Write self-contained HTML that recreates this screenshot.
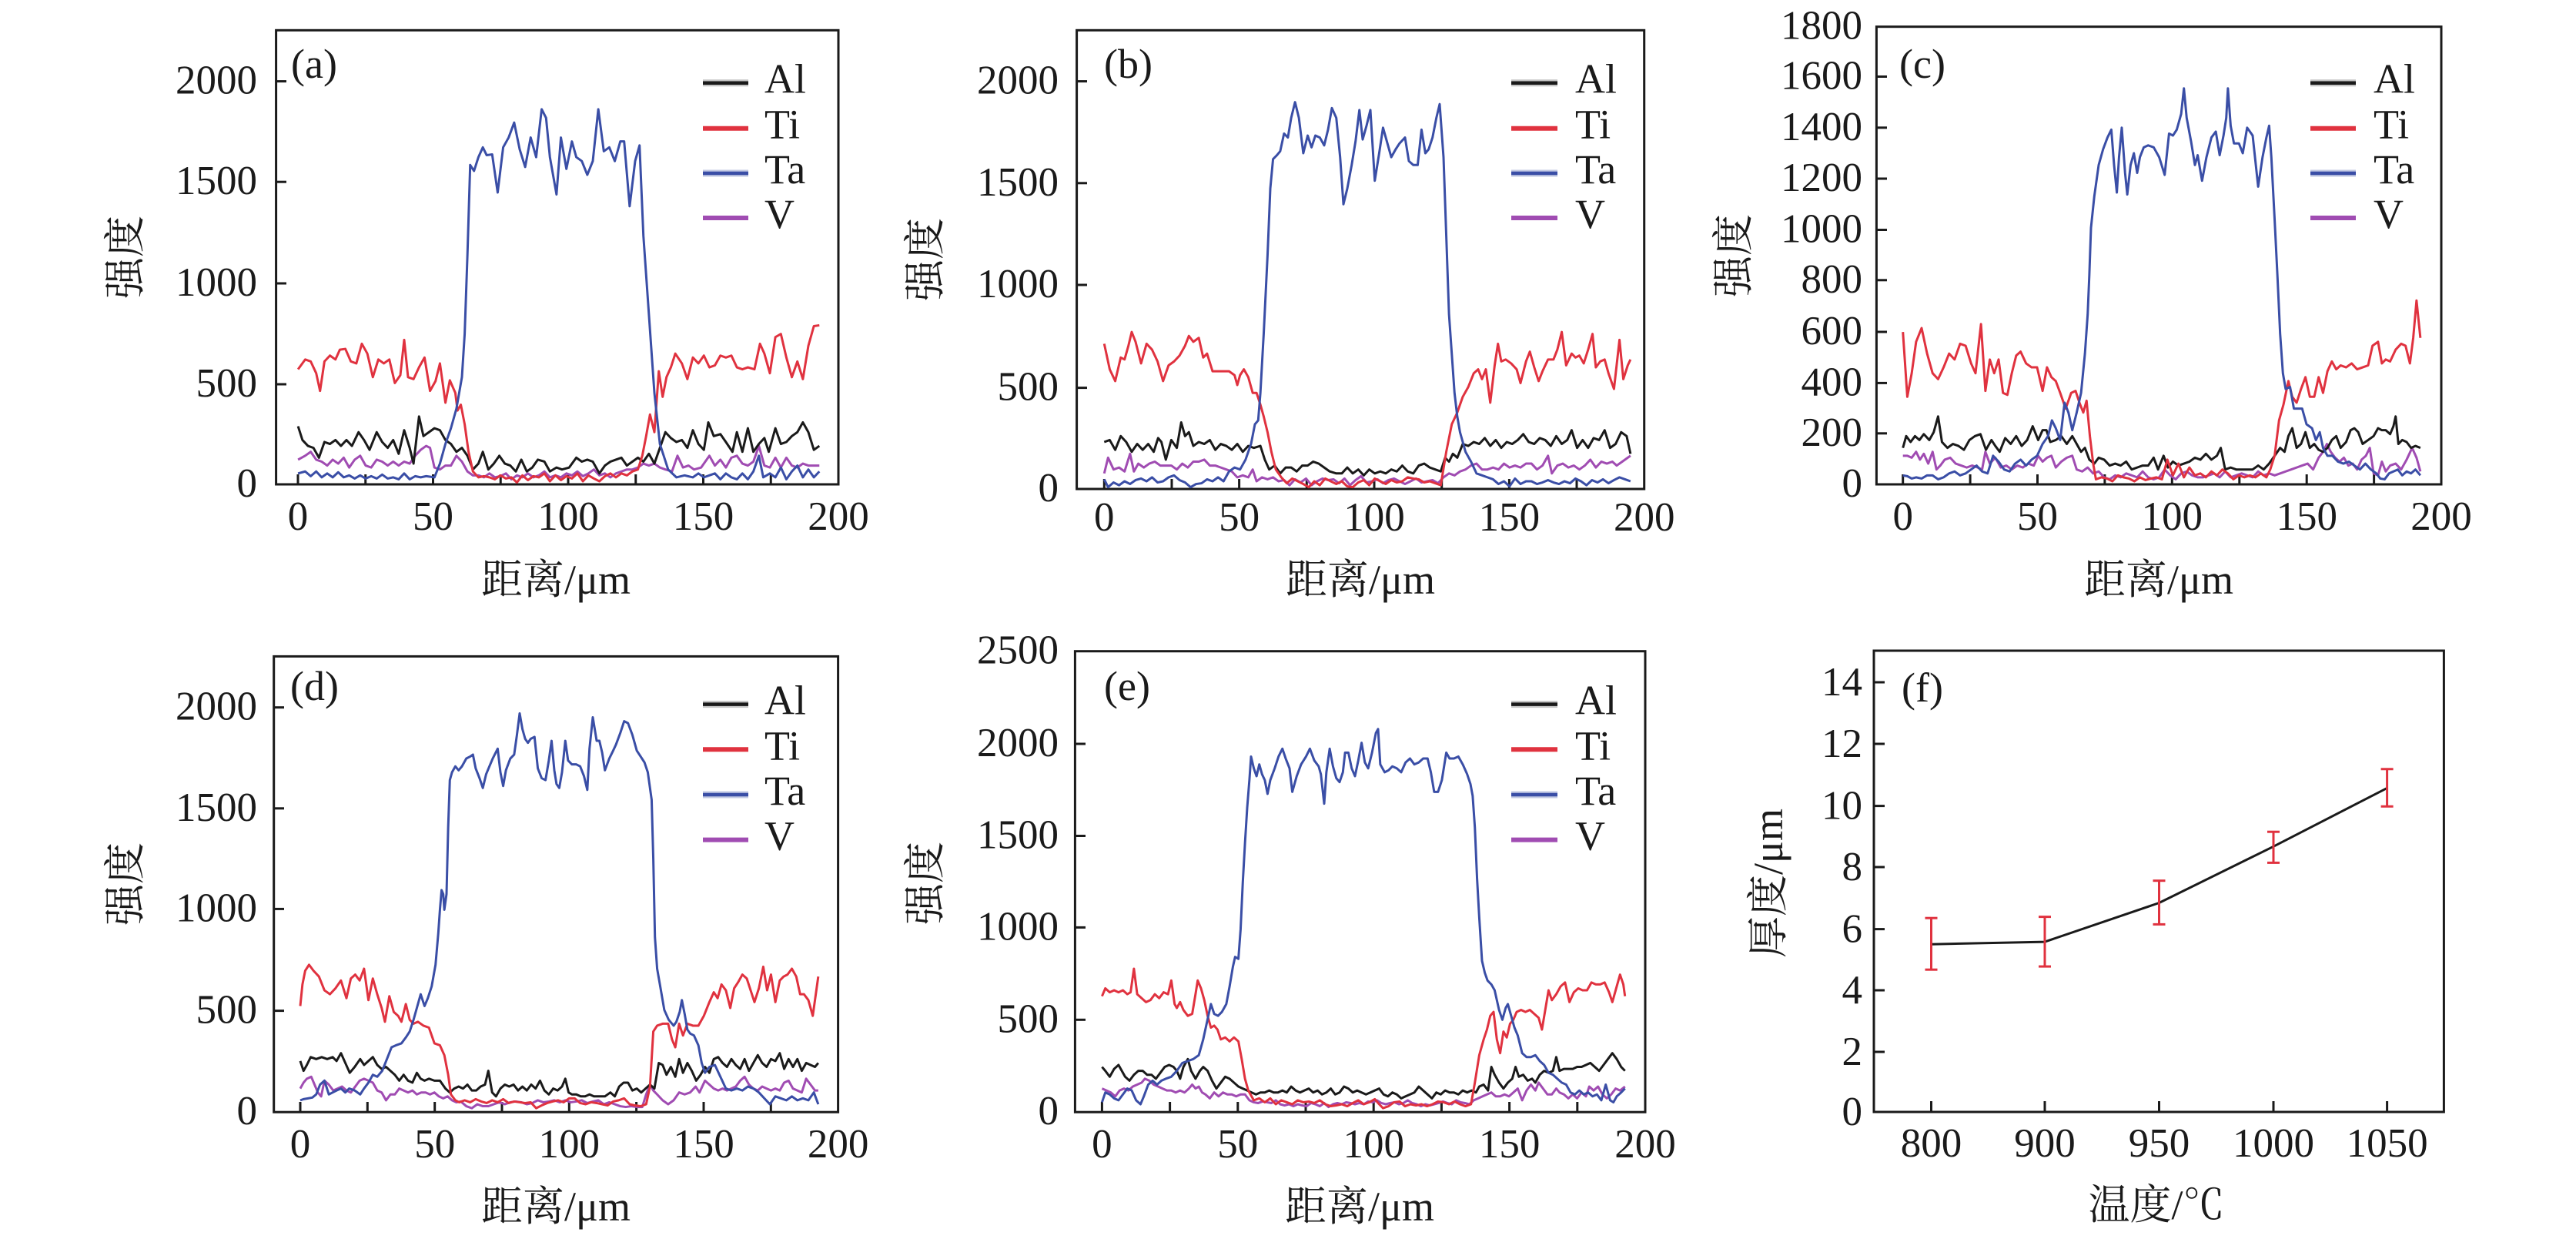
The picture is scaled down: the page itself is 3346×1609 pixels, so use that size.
<!DOCTYPE html>
<html><head><meta charset="utf-8"><style>html,body{margin:0;padding:0;background:#fff}svg{display:block}</style></head>
<body>
<svg xmlns="http://www.w3.org/2000/svg" width="3346" height="1609" viewBox="0 0 3346 1609" font-family="'Liberation Serif','Noto Serif CJK SC',serif" font-size="53" fill="#1a1a1a">
<rect width="3346" height="1609" fill="#fff"/>
<defs>
<style>
.ax{fill:none;stroke:#1a1a1a;stroke-width:3}
.tk{stroke:#1a1a1a;stroke-width:3}
.s{fill:none;stroke-width:3;stroke-linejoin:round;vector-effect:non-scaling-stroke}
.al{stroke:#1a1a1a}.ti{stroke:#e0323f}.ta{stroke:#3a4ea6}.v{stroke:#a04cb2}
.lab{font-size:54px}
</style>
</defs>

<!-- ================= PANEL A ================= -->
<rect class="ax" x="358.6" y="39.3" width="730.4" height="589.7"/>
<g class="tk">
<line x1="358.6" y1="105.6" x2="372" y2="105.6"/><line x1="358.6" y1="236.2" x2="372" y2="236.2"/><line x1="358.6" y1="368" x2="372" y2="368"/><line x1="358.6" y1="499" x2="372" y2="499"/>
<line x1="387" y1="629" x2="387" y2="616"/><line x1="474.75" y1="629" x2="474.75" y2="616"/><line x1="562.5" y1="629" x2="562.5" y2="616"/><line x1="650.25" y1="629" x2="650.25" y2="616"/><line x1="738" y1="629" x2="738" y2="616"/><line x1="825.75" y1="629" x2="825.75" y2="616"/><line x1="913.5" y1="629" x2="913.5" y2="616"/><line x1="1001.25" y1="629" x2="1001.25" y2="616"/>
</g>
<g text-anchor="end"><text x="334" y="121.6">2000</text><text x="334" y="252">1500</text><text x="334" y="384">1000</text><text x="334" y="515">500</text><text x="334" y="645">0</text></g>
<g text-anchor="middle"><text x="387" y="688">0</text><text x="562.5" y="688">50</text><text x="738" y="688">100</text><text x="913.5" y="688">150</text><text x="1089" y="688">200</text></g>
<text class="lab" transform="translate(181,334) rotate(-90)" text-anchor="middle">强度</text>
<text class="lab" x="722" y="771" text-anchor="middle">距离/μm</text>
<text class="lab" x="378" y="101">(a)</text>
<g transform="translate(0,0) scale(0.714286,0.510204)">
<polyline class="s v" points="542,1170 555,1160 565,1150 575,1170 585,1175 595,1185 605,1170 615,1180 625,1165 635,1190 645,1170 655,1160 665,1185 675,1190 685,1170 695,1175 705,1185 715,1175 725,1185 735,1175 745,1180 755,1160 765,1145 775,1135 782,1140 790,1190 800,1195 810,1185 820,1185 830,1160 840,1175 850,1200 860,1210 870,1210 880,1215 890,1205 900,1215 910,1212 920,1205 930,1220 940,1210 950,1215 960,1205 970,1215 980,1210 990,1200 1000,1215 1010,1210 1020,1215 1030,1205 1040,1210 1050,1200 1060,1212 1070,1205 1080,1195 1090,1210 1100,1205 1110,1215 1120,1205 1130,1200 1140,1195 1150,1195 1160,1190 1170,1180 1180,1185 1190,1180 1200,1190 1210,1195 1222,1200 1232,1160 1242,1190 1252,1185 1262,1195 1275,1190 1290,1160 1300,1185 1310,1170 1320,1190 1330,1165 1340,1160 1350,1180 1360,1185 1370,1175 1380,1135 1390,1185 1400,1190 1410,1165 1420,1190 1430,1165 1440,1185 1450,1190 1460,1180 1470,1185 1490,1185"/>
<polyline class="s al" points="542,1085 550,1120 560,1135 570,1140 580,1165 590,1125 600,1130 610,1120 620,1135 630,1120 640,1135 652,1100 662,1120 672,1145 685,1100 695,1125 705,1140 715,1120 725,1155 735,1095 745,1140 752,1180 762,1060 770,1110 780,1100 790,1090 800,1095 810,1120 820,1130 830,1150 840,1140 850,1160 860,1195 870,1180 878,1150 888,1195 898,1180 908,1160 918,1180 928,1185 938,1200 948,1170 958,1200 968,1190 978,1170 990,1175 1000,1200 1012,1190 1022,1195 1035,1190 1048,1165 1058,1175 1068,1170 1078,1175 1090,1205 1100,1185 1110,1175 1120,1170 1130,1165 1140,1185 1150,1175 1160,1165 1170,1175 1180,1155 1190,1180 1200,1140 1210,1100 1220,1115 1230,1125 1240,1120 1250,1140 1260,1095 1270,1130 1280,1145 1288,1075 1298,1110 1310,1105 1320,1125 1332,1150 1340,1100 1350,1150 1360,1090 1370,1150 1380,1130 1390,1115 1398,1150 1410,1090 1420,1130 1430,1125 1440,1110 1450,1100 1460,1075 1470,1100 1480,1145 1490,1135"/>
<polyline class="s ti" points="542,940 555,915 565,920 575,950 582,995 590,920 600,905 610,915 618,890 628,888 638,920 648,925 658,875 668,900 678,960 688,915 698,925 708,915 718,975 728,955 735,865 742,960 752,965 762,935 772,910 782,995 792,970 800,925 810,1025 818,968 828,1000 832,1045 838,1030 845,1080 852,1150 860,1200 870,1215 880,1212 890,1215 900,1220 910,1210 920,1218 930,1215 940,1228 950,1210 960,1222 970,1212 980,1215 990,1205 1000,1225 1010,1210 1020,1222 1030,1212 1040,1218 1050,1205 1060,1225 1070,1210 1080,1218 1090,1225 1100,1212 1110,1205 1120,1215 1130,1205 1140,1210 1150,1200 1160,1195 1168,1160 1175,1110 1182,1055 1190,1100 1198,945 1205,1010 1212,960 1220,935 1228,900 1240,925 1250,965 1260,910 1270,925 1280,905 1290,935 1300,930 1310,905 1320,910 1330,905 1340,935 1350,940 1360,935 1372,940 1382,875 1390,900 1400,950 1410,858 1420,850 1430,910 1440,960 1450,920 1460,965 1470,880 1480,830 1490,828"/>
<polyline class="s ta" points="542,1205 555,1200 565,1212 575,1200 585,1215 595,1205 605,1215 615,1202 625,1215 635,1210 645,1218 655,1210 665,1218 675,1212 685,1218 695,1208 705,1218 715,1215 725,1220 735,1205 745,1220 755,1212 765,1215 775,1212 790,1215 800,1180 810,1130 820,1090 830,1040 840,960 845,850 850,650 855,420 862,435 870,400 878,375 885,395 895,393 905,490 915,375 925,350 935,312 945,380 955,425 965,350 975,400 985,278 993,300 1000,400 1012,495 1020,350 1030,430 1040,360 1048,400 1058,410 1068,445 1078,410 1088,278 1098,385 1108,375 1118,410 1128,360 1135,360 1145,525 1155,410 1163,370 1170,600 1180,800 1190,1000 1200,1130 1215,1195 1230,1215 1245,1210 1260,1215 1270,1205 1280,1215 1290,1210 1300,1205 1310,1220 1320,1205 1330,1215 1340,1220 1350,1205 1360,1220 1370,1200 1380,1160 1388,1215 1400,1205 1410,1215 1420,1190 1430,1220 1440,1200 1450,1185 1460,1215 1470,1195 1480,1215 1490,1200"/>
</g>
<g>
<line x1="913" y1="107.7" x2="972" y2="107.7" stroke="#1a1a1a" stroke-width="9" opacity="0.25"/><line x1="913" y1="107.7" x2="972" y2="107.7" stroke="#1a1a1a" stroke-width="4.5"/>
<line x1="913" y1="166.7" x2="972" y2="166.7" stroke="#e0323f" stroke-width="6"/>
<line x1="913" y1="225" x2="972" y2="225" stroke="#3a4ea6" stroke-width="9" opacity="0.3"/><line x1="913" y1="225" x2="972" y2="225" stroke="#3a4ea6" stroke-width="4.5"/>
<line x1="913" y1="283" x2="972" y2="283" stroke="#a04cb2" stroke-width="6"/>
<text class="lab" x="993" y="120.7">Al</text><text class="lab" x="993" y="179.7">Ti</text><text class="lab" x="993" y="238">Ta</text><text class="lab" x="993" y="296">V</text>
</g>

<!-- ================= PANEL B ================= -->
<rect class="ax" x="1398.6" y="39.3" width="737.1" height="595.7"/>
<g class="tk">
<line x1="1398.6" y1="105.6" x2="1412" y2="105.6"/><line x1="1398.6" y1="237.8" x2="1412" y2="237.8"/><line x1="1398.6" y1="370" x2="1412" y2="370"/><line x1="1398.6" y1="503.6" x2="1412" y2="503.6"/>
<line x1="1434.3" y1="635" x2="1434.3" y2="622"/><line x1="1522" y1="635" x2="1522" y2="622"/><line x1="1609.6" y1="635" x2="1609.6" y2="622"/><line x1="1697.3" y1="635" x2="1697.3" y2="622"/><line x1="1785" y1="635" x2="1785" y2="622"/><line x1="1872.7" y1="635" x2="1872.7" y2="622"/><line x1="1960.4" y1="635" x2="1960.4" y2="622"/><line x1="2048" y1="635" x2="2048" y2="622"/>
</g>
<g text-anchor="end"><text x="1375" y="121.6">2000</text><text x="1375" y="253.8">1500</text><text x="1375" y="386">1000</text><text x="1375" y="519.6">500</text><text x="1375" y="651">0</text></g>
<g text-anchor="middle"><text x="1434.3" y="689">0</text><text x="1609.6" y="689">50</text><text x="1785" y="689">100</text><text x="1960.4" y="689">150</text><text x="2135.7" y="689">200</text></g>
<text class="lab" transform="translate(1220,337) rotate(-90)" text-anchor="middle">强度</text>
<text class="lab" x="1767" y="771" text-anchor="middle">距离/μm</text>
<text class="lab" x="1434" y="101">(b)</text>
<g transform="translate(1100,0) scale(0.714286,0.510204)">
<polyline class="s v" points="468,1205 475,1165 485,1195 495,1190 505,1200 515,1155 522,1200 530,1180 540,1190 550,1180 560,1175 570,1185 580,1185 590,1185 600,1195 610,1180 620,1190 630,1175 640,1175 650,1170 660,1185 670,1185 680,1190 690,1195 700,1200 710,1215 720,1210 730,1215 738,1195 745,1225 755,1215 765,1220 775,1215 785,1225 795,1222 805,1235 815,1220 825,1228 835,1218 845,1235 855,1225 865,1218 875,1222 885,1220 895,1230 905,1218 915,1235 925,1222 935,1212 945,1228 955,1225 965,1220 975,1230 985,1222 995,1218 1005,1225 1015,1232 1025,1225 1035,1218 1045,1228 1055,1225 1065,1222 1075,1230 1085,1215 1095,1205 1105,1210 1115,1200 1125,1195 1135,1185 1145,1180 1155,1195 1165,1195 1175,1190 1185,1195 1195,1180 1205,1190 1215,1185 1225,1190 1235,1180 1245,1180 1255,1195 1265,1185 1275,1160 1282,1205 1292,1185 1302,1180 1312,1190 1322,1185 1332,1195 1342,1185 1352,1170 1362,1190 1372,1175 1382,1180 1392,1175 1400,1185 1410,1175 1420,1165 1425,1160"/>
<polyline class="s al" points="468,1125 478,1120 488,1145 498,1110 508,1125 518,1150 528,1130 538,1145 548,1130 558,1150 566,1115 572,1125 580,1170 590,1120 600,1140 608,1075 615,1110 622,1100 630,1135 640,1125 650,1130 660,1120 670,1145 680,1130 690,1135 700,1145 710,1130 720,1150 730,1135 740,1140 752,1135 760,1170 768,1195 778,1185 788,1205 798,1190 808,1190 818,1200 828,1185 838,1185 848,1175 858,1180 868,1190 878,1200 890,1205 900,1205 910,1190 920,1205 930,1195 940,1210 950,1195 960,1205 970,1200 980,1205 990,1195 1000,1200 1010,1185 1020,1200 1030,1205 1040,1185 1050,1180 1060,1190 1070,1195 1080,1200 1088,1165 1095,1175 1102,1155 1110,1165 1120,1130 1130,1135 1140,1125 1150,1130 1160,1115 1170,1135 1180,1120 1190,1140 1200,1125 1210,1130 1220,1120 1230,1105 1240,1125 1250,1130 1260,1115 1270,1120 1280,1135 1290,1110 1300,1130 1310,1120 1318,1095 1328,1140 1338,1120 1348,1140 1358,1115 1368,1120 1378,1095 1388,1140 1398,1130 1408,1100 1418,1110 1425,1155"/>
<polyline class="s ti" points="468,875 478,940 488,970 498,910 505,915 512,880 518,845 525,870 535,925 545,875 555,890 565,920 575,970 585,930 595,920 605,905 615,880 622,855 630,870 640,860 648,910 655,900 665,945 675,945 685,945 695,945 705,955 710,980 715,955 722,940 730,960 738,1000 745,1000 752,1030 758,1060 765,1100 772,1150 780,1195 790,1215 800,1230 810,1218 820,1225 830,1232 840,1240 850,1225 860,1235 870,1218 880,1225 890,1232 900,1225 910,1238 920,1240 930,1228 940,1222 950,1235 960,1218 970,1225 980,1232 990,1222 1000,1228 1010,1225 1020,1215 1030,1218 1040,1220 1050,1228 1060,1225 1070,1230 1080,1235 1090,1150 1100,1080 1110,1050 1120,1010 1130,985 1140,950 1148,940 1155,965 1162,940 1170,1025 1178,930 1184,875 1190,920 1198,915 1208,925 1218,940 1225,975 1235,920 1242,895 1250,935 1258,970 1265,945 1275,915 1285,915 1292,890 1300,845 1308,930 1318,900 1325,910 1332,905 1340,925 1348,890 1356,850 1362,935 1370,920 1378,915 1385,950 1395,990 1405,865 1412,965 1420,930 1425,915"/>
<polyline class="s ta" points="468,1220 475,1240 485,1228 495,1235 505,1225 515,1232 525,1222 535,1218 545,1225 555,1215 565,1228 575,1225 585,1215 595,1210 605,1222 615,1228 625,1240 635,1232 645,1230 655,1220 665,1225 675,1215 685,1225 695,1200 705,1190 715,1195 725,1170 735,1130 742,1080 748,1070 752,1000 758,850 765,650 770,480 775,405 782,395 788,385 795,340 802,350 808,300 815,260 822,300 830,390 838,345 845,375 852,345 860,350 868,370 875,330 882,275 890,300 897,400 903,520 910,480 918,420 925,360 932,280 938,355 945,320 952,280 960,460 968,390 975,325 982,360 990,400 998,380 1005,365 1015,350 1022,410 1030,420 1038,420 1045,330 1052,390 1058,380 1065,350 1072,300 1078,265 1085,400 1090,600 1095,800 1100,900 1105,1000 1110,1060 1115,1100 1125,1150 1135,1175 1145,1205 1155,1210 1165,1215 1175,1220 1185,1232 1195,1225 1205,1238 1215,1218 1225,1232 1235,1225 1245,1225 1255,1232 1265,1228 1275,1222 1285,1228 1295,1232 1305,1225 1315,1230 1325,1218 1335,1225 1345,1235 1355,1222 1365,1228 1375,1220 1385,1230 1395,1222 1405,1215 1415,1220 1425,1225"/>
</g>
<g>
<line x1="1963" y1="107.7" x2="2023" y2="107.7" stroke="#1a1a1a" stroke-width="9" opacity="0.25"/><line x1="1963" y1="107.7" x2="2023" y2="107.7" stroke="#1a1a1a" stroke-width="4.5"/>
<line x1="1963" y1="166.7" x2="2023" y2="166.7" stroke="#e0323f" stroke-width="6"/>
<line x1="1963" y1="225" x2="2023" y2="225" stroke="#3a4ea6" stroke-width="9" opacity="0.3"/><line x1="1963" y1="225" x2="2023" y2="225" stroke="#3a4ea6" stroke-width="4.5"/>
<line x1="1963" y1="283" x2="2023" y2="283" stroke="#a04cb2" stroke-width="6"/>
<text class="lab" x="2046" y="120.7">Al</text><text class="lab" x="2046" y="179.7">Ti</text><text class="lab" x="2046" y="238">Ta</text><text class="lab" x="2046" y="296">V</text>
</g>

<!-- ================= PANEL C ================= -->
<rect class="ax" x="2437.4" y="34.7" width="733.6" height="594.3"/>
<g class="tk">
<line x1="2437.4" y1="562.8" x2="2451" y2="562.8"/><line x1="2437.4" y1="497.4" x2="2451" y2="497.4"/><line x1="2437.4" y1="431" x2="2451" y2="431"/><line x1="2437.4" y1="363.8" x2="2451" y2="363.8"/><line x1="2437.4" y1="298.5" x2="2451" y2="298.5"/><line x1="2437.4" y1="232" x2="2451" y2="232"/><line x1="2437.4" y1="165.8" x2="2451" y2="165.8"/><line x1="2437.4" y1="99.5" x2="2451" y2="99.5"/>
<line x1="2471.7" y1="629" x2="2471.7" y2="616"/><line x1="2559.1" y1="629" x2="2559.1" y2="616"/><line x1="2646.5" y1="629" x2="2646.5" y2="616"/><line x1="2733.9" y1="629" x2="2733.9" y2="616"/><line x1="2821.3" y1="629" x2="2821.3" y2="616"/><line x1="2908.8" y1="629" x2="2908.8" y2="616"/><line x1="2996.2" y1="629" x2="2996.2" y2="616"/><line x1="3083.6" y1="629" x2="3083.6" y2="616"/>
</g>
<g text-anchor="end"><text x="2419" y="50.7">1800</text><text x="2419" y="115.5">1600</text><text x="2419" y="181.8">1400</text><text x="2419" y="248">1200</text><text x="2419" y="314.5">1000</text><text x="2419" y="379.8">800</text><text x="2419" y="447">600</text><text x="2419" y="513.4">400</text><text x="2419" y="578.8">200</text><text x="2419" y="645">0</text></g>
<g text-anchor="middle"><text x="2471.7" y="688">0</text><text x="2646.5" y="688">50</text><text x="2821.3" y="688">100</text><text x="2996.2" y="688">150</text><text x="3171" y="688">200</text></g>
<text class="lab" transform="translate(2270,332) rotate(-90)" text-anchor="middle">强度</text>
<text class="lab" x="2804" y="771" text-anchor="middle">距离/μm</text>
<text class="lab" x="2467" y="101">(c)</text>
<g transform="translate(2226,0) scale(0.714286,0.510204)">
<polyline class="s v" points="344,1160 352,1160 360,1165 368,1150 375,1170 382,1155 390,1180 398,1150 405,1195 412,1185 420,1170 430,1165 440,1180 450,1185 460,1190 470,1185 480,1190 488,1195 494,1150 502,1180 512,1165 522,1190 532,1185 542,1195 552,1185 562,1190 572,1180 582,1185 590,1160 598,1175 606,1165 614,1160 622,1190 632,1175 642,1165 652,1160 660,1195 670,1200 680,1190 690,1205 700,1200 710,1215 720,1220 730,1210 740,1215 750,1205 760,1210 770,1215 780,1200 790,1215 800,1220 810,1215 820,1195 830,1210 840,1220 850,1205 860,1200 870,1210 880,1215 890,1215 900,1210 910,1205 920,1215 930,1200 940,1215 950,1210 960,1205 970,1210 980,1215 990,1200 1000,1210 1010,1205 1020,1210 1030,1205 1040,1200 1050,1195 1060,1190 1070,1185 1080,1180 1090,1195 1100,1165 1108,1150 1115,1130 1122,1150 1130,1165 1138,1175 1146,1165 1154,1185 1162,1180 1170,1195 1178,1170 1186,1160 1193,1140 1200,1205 1208,1210 1215,1175 1222,1200 1230,1185 1240,1180 1250,1195 1260,1170 1270,1140 1278,1165 1285,1200"/>
<polyline class="s al" points="344,1140 350,1110 358,1125 366,1110 374,1120 382,1105 392,1120 400,1100 408,1060 415,1125 425,1140 435,1130 445,1135 455,1145 465,1120 475,1110 485,1105 495,1145 505,1120 512,1135 520,1150 530,1115 540,1130 550,1110 560,1135 570,1120 580,1085 590,1120 598,1095 605,1095 612,1125 622,1120 632,1110 642,1130 652,1110 660,1130 668,1150 675,1140 683,1170 692,1180 700,1165 710,1170 720,1185 730,1180 740,1185 750,1175 760,1195 770,1190 780,1185 790,1185 800,1165 808,1195 818,1160 826,1190 835,1175 845,1185 855,1180 865,1175 875,1165 885,1170 895,1155 905,1170 915,1160 922,1140 930,1195 940,1190 950,1195 960,1195 970,1195 980,1195 990,1185 1000,1195 1010,1180 1020,1160 1030,1140 1038,1150 1045,1110 1052,1090 1060,1140 1068,1130 1076,1100 1084,1140 1092,1130 1100,1145 1108,1150 1116,1140 1124,1120 1132,1110 1140,1140 1150,1125 1158,1095 1165,1090 1172,1100 1180,1130 1190,1120 1200,1110 1208,1090 1215,1095 1222,1095 1230,1105 1236,1085 1240,1060 1245,1130 1252,1120 1260,1125 1268,1140 1276,1135 1285,1140"/>
<polyline class="s ti" points="344,845 352,1010 360,950 368,870 378,835 388,900 398,950 408,965 418,935 428,900 438,915 448,875 458,880 468,925 476,950 486,825 494,995 502,915 510,950 518,915 526,1000 534,1005 542,950 550,905 558,895 568,925 578,935 588,935 598,995 606,935 614,960 622,970 630,1000 640,1040 650,1000 658,995 665,1025 672,1050 678,1020 684,1110 690,1180 695,1220 705,1215 715,1218 725,1225 735,1210 745,1215 755,1218 765,1225 775,1215 785,1222 795,1218 805,1215 815,1220 825,1170 835,1210 845,1180 855,1215 865,1190 875,1210 885,1205 895,1215 905,1200 915,1210 925,1195 935,1205 945,1220 955,1210 965,1215 975,1210 985,1215 995,1205 1005,1215 1012,1195 1020,1160 1028,1070 1036,1030 1045,970 1052,1010 1060,1025 1068,990 1076,960 1084,1010 1092,1010 1100,960 1108,1000 1116,945 1124,920 1132,940 1140,930 1150,935 1160,925 1170,940 1180,935 1190,930 1198,880 1208,870 1215,925 1222,915 1230,920 1240,890 1250,875 1258,880 1266,925 1272,860 1278,765 1285,860"/>
<polyline class="s ta" points="344,1210 352,1212 360,1218 368,1215 378,1218 388,1210 398,1210 408,1220 418,1215 428,1205 438,1200 448,1210 458,1205 468,1195 478,1185 488,1200 498,1205 508,1160 518,1175 528,1195 538,1200 548,1180 558,1170 568,1185 578,1170 588,1160 598,1130 608,1110 615,1070 622,1090 630,1120 638,1025 645,1050 652,1095 660,1050 668,1000 675,900 680,800 683,700 686,580 692,500 700,420 708,380 716,350 723,330 728,420 733,490 737,400 742,325 748,440 752,495 758,420 764,390 770,440 775,400 782,375 790,370 800,375 810,400 820,445 828,340 835,345 842,330 850,290 855,225 860,300 868,360 875,420 880,395 888,460 896,400 905,350 913,335 920,395 927,345 932,300 935,225 940,320 946,365 955,365 962,390 970,325 980,345 990,475 998,400 1005,350 1010,320 1014,400 1020,560 1025,700 1030,850 1035,950 1040,990 1048,985 1055,1040 1062,1040 1070,1040 1078,1080 1088,1090 1095,1120 1102,1100 1108,1140 1116,1160 1125,1160 1135,1175 1145,1180 1155,1175 1165,1185 1175,1195 1185,1180 1195,1195 1205,1205 1212,1218 1220,1220 1228,1205 1236,1200 1244,1195 1252,1210 1260,1200 1268,1205 1276,1195 1285,1210"/>
</g>
<g>
<line x1="3001" y1="107.7" x2="3060" y2="107.7" stroke="#1a1a1a" stroke-width="9" opacity="0.25"/><line x1="3001" y1="107.7" x2="3060" y2="107.7" stroke="#1a1a1a" stroke-width="4.5"/>
<line x1="3001" y1="166.7" x2="3060" y2="166.7" stroke="#e0323f" stroke-width="6"/>
<line x1="3001" y1="225" x2="3060" y2="225" stroke="#3a4ea6" stroke-width="9" opacity="0.3"/><line x1="3001" y1="225" x2="3060" y2="225" stroke="#3a4ea6" stroke-width="4.5"/>
<line x1="3001" y1="283" x2="3060" y2="283" stroke="#a04cb2" stroke-width="6"/>
<text class="lab" x="3083" y="120.7">Al</text><text class="lab" x="3083" y="179.7">Ti</text><text class="lab" x="3083" y="238">Ta</text><text class="lab" x="3083" y="296">V</text>
</g>

<!-- ================= PANEL D ================= -->
<rect class="ax" x="355.7" y="852.4" width="732.9" height="591.8"/>
<g class="tk">
<line x1="355.7" y1="918.7" x2="369" y2="918.7"/><line x1="355.7" y1="1049.8" x2="369" y2="1049.8"/><line x1="355.7" y1="1180.4" x2="369" y2="1180.4"/><line x1="355.7" y1="1312.6" x2="369" y2="1312.6"/>
<line x1="390" y1="1444" x2="390" y2="1431"/><line x1="477.3" y1="1444" x2="477.3" y2="1431"/><line x1="564.7" y1="1444" x2="564.7" y2="1431"/><line x1="652" y1="1444" x2="652" y2="1431"/><line x1="739.3" y1="1444" x2="739.3" y2="1431"/><line x1="826.6" y1="1444" x2="826.6" y2="1431"/><line x1="914" y1="1444" x2="914" y2="1431"/><line x1="1001.3" y1="1444" x2="1001.3" y2="1431"/>
</g>
<g text-anchor="end"><text x="334" y="934.7">2000</text><text x="334" y="1065.8">1500</text><text x="334" y="1196.4">1000</text><text x="334" y="1328.6">500</text><text x="334" y="1460">0</text></g>
<g text-anchor="middle"><text x="390" y="1503">0</text><text x="564.7" y="1503">50</text><text x="739.3" y="1503">100</text><text x="914" y="1503">150</text><text x="1088.6" y="1503">200</text></g>
<text class="lab" transform="translate(181,1148) rotate(-90)" text-anchor="middle">强度</text>
<text class="lab" x="722" y="1585" text-anchor="middle">距离/μm</text>
<text class="lab" x="377" y="909">(d)</text>
<g transform="translate(0,809) scale(0.714286,0.510204)">
<polyline class="s v" points="546,1185 552,1170 558,1160 566,1155 572,1175 578,1195 584,1205 590,1165 598,1175 606,1190 614,1185 622,1180 630,1190 638,1195 646,1180 654,1165 662,1160 670,1165 678,1170 686,1190 694,1195 702,1215 710,1200 718,1200 726,1185 734,1190 742,1195 750,1190 758,1200 766,1195 774,1195 782,1200 790,1195 798,1205 806,1210 814,1205 822,1215 830,1220 838,1218 848,1230 858,1235 868,1225 878,1230 888,1230 898,1225 908,1220 918,1225 928,1220 938,1218 948,1220 958,1225 968,1222 978,1215 988,1220 998,1218 1008,1215 1018,1220 1028,1215 1038,1220 1048,1218 1058,1215 1068,1222 1078,1218 1088,1215 1098,1225 1108,1220 1118,1225 1128,1230 1138,1232 1148,1230 1158,1232 1168,1232 1175,1200 1182,1175 1188,1190 1195,1200 1205,1215 1215,1225 1225,1215 1235,1195 1245,1200 1255,1195 1265,1180 1272,1195 1282,1165 1290,1175 1298,1185 1306,1190 1314,1185 1322,1190 1330,1185 1338,1180 1346,1165 1354,1155 1362,1175 1370,1185 1378,1190 1386,1180 1394,1185 1402,1190 1410,1185 1418,1190 1426,1170 1434,1165 1442,1185 1450,1190 1458,1195 1466,1160 1474,1175 1482,1190 1488,1190"/>
<polyline class="s al" points="546,1115 552,1140 558,1125 565,1105 575,1110 585,1105 595,1110 605,1105 612,1115 620,1095 628,1120 636,1145 645,1130 655,1110 662,1125 670,1115 678,1105 686,1125 694,1135 702,1130 710,1140 718,1150 726,1165 734,1150 742,1165 750,1170 758,1145 765,1160 772,1165 780,1160 790,1165 800,1165 810,1185 818,1195 826,1185 834,1180 842,1185 850,1175 858,1190 866,1190 874,1180 882,1175 888,1140 895,1195 902,1205 910,1185 918,1175 926,1180 934,1175 942,1190 950,1180 958,1190 966,1175 974,1185 982,1165 990,1190 998,1200 1006,1185 1014,1190 1022,1180 1028,1160 1034,1195 1040,1200 1048,1200 1056,1205 1064,1205 1072,1200 1080,1205 1090,1205 1100,1205 1110,1195 1118,1205 1126,1180 1134,1170 1142,1170 1150,1190 1158,1185 1166,1195 1174,1185 1182,1175 1190,1185 1198,1120 1205,1125 1212,1150 1220,1130 1228,1155 1235,1110 1242,1145 1250,1120 1258,1140 1266,1165 1274,1150 1282,1130 1290,1145 1298,1110 1306,1105 1314,1120 1322,1130 1330,1110 1338,1125 1346,1135 1354,1110 1362,1140 1370,1120 1378,1100 1386,1120 1394,1130 1402,1110 1410,1115 1418,1095 1426,1135 1434,1110 1442,1130 1450,1110 1458,1140 1466,1120 1474,1125 1482,1130 1488,1120"/>
<polyline class="s ti" points="546,975 550,920 555,885 562,870 570,885 580,900 590,935 600,945 610,930 620,910 630,955 638,905 646,895 654,910 662,880 670,960 678,905 686,945 694,980 700,1015 708,950 716,990 724,1000 730,1015 738,970 745,1010 752,1020 760,1015 770,1025 780,1030 790,1070 800,1075 808,1100 815,1150 820,1200 828,1215 835,1220 845,1215 855,1220 865,1212 875,1218 885,1222 895,1215 905,1220 915,1212 925,1222 935,1218 945,1220 955,1222 965,1220 975,1235 985,1228 995,1222 1005,1218 1015,1215 1025,1220 1035,1210 1045,1210 1055,1222 1065,1225 1075,1220 1085,1222 1095,1225 1105,1228 1115,1218 1125,1215 1135,1210 1145,1225 1155,1228 1165,1230 1175,1225 1182,1180 1188,1040 1195,1025 1205,1020 1215,1020 1222,1060 1228,1080 1235,1020 1242,1050 1250,1020 1260,1025 1270,1025 1280,1000 1290,965 1298,940 1305,955 1312,920 1320,935 1328,980 1335,930 1342,915 1350,895 1358,905 1365,935 1372,965 1380,930 1388,875 1395,935 1402,895 1410,965 1418,910 1425,900 1432,895 1440,880 1448,900 1455,945 1462,945 1470,960 1478,1000 1485,930 1488,900"/>
<polyline class="s ta" points="546,1215 552,1212 560,1210 568,1208 575,1200 582,1175 590,1165 598,1200 605,1195 612,1190 620,1185 628,1195 635,1185 645,1190 655,1200 662,1185 670,1170 678,1150 686,1155 695,1140 705,1105 712,1080 720,1075 730,1070 738,1055 745,1040 752,1010 758,980 765,945 772,975 778,955 785,925 792,870 797,790 800,730 803,680 806,690 808,730 812,690 815,520 818,400 822,380 828,365 834,375 840,365 848,345 855,340 860,335 865,370 872,395 878,420 884,385 890,365 896,345 905,320 910,380 915,415 920,375 928,345 935,335 940,285 945,230 950,270 955,295 960,305 965,295 972,290 978,370 985,395 992,400 998,350 1003,300 1008,375 1012,410 1017,420 1022,380 1028,300 1033,350 1040,360 1048,360 1055,365 1062,390 1068,425 1072,320 1078,240 1085,300 1090,300 1095,330 1100,375 1108,345 1115,325 1120,310 1128,280 1135,250 1142,255 1150,285 1158,325 1165,340 1172,355 1178,380 1185,450 1188,600 1191,800 1195,880 1200,920 1208,985 1216,1010 1225,1025 1230,1015 1236,990 1240,960 1245,995 1250,1035 1255,1045 1262,1050 1270,1075 1276,1120 1282,1145 1290,1130 1300,1125 1310,1155 1320,1185 1330,1190 1340,1185 1350,1190 1360,1180 1370,1185 1380,1195 1390,1210 1400,1225 1410,1205 1420,1210 1430,1215 1440,1205 1450,1215 1460,1210 1470,1215 1480,1195 1488,1225"/>
</g>
<g>
<line x1="913" y1="914.6" x2="972" y2="914.6" stroke="#1a1a1a" stroke-width="9" opacity="0.25"/><line x1="913" y1="914.6" x2="972" y2="914.6" stroke="#1a1a1a" stroke-width="4.5"/>
<line x1="913" y1="973.3" x2="972" y2="973.3" stroke="#e0323f" stroke-width="6"/>
<line x1="913" y1="1032" x2="972" y2="1032" stroke="#3a4ea6" stroke-width="9" opacity="0.3"/><line x1="913" y1="1032" x2="972" y2="1032" stroke="#3a4ea6" stroke-width="4.5"/>
<line x1="913" y1="1090.6" x2="972" y2="1090.6" stroke="#a04cb2" stroke-width="6"/>
<text class="lab" x="993" y="927.6">Al</text><text class="lab" x="993" y="986.3">Ti</text><text class="lab" x="993" y="1045">Ta</text><text class="lab" x="993" y="1103.6">V</text>
</g>

<!-- ================= PANEL E ================= -->
<rect class="ax" x="1396.4" y="845.7" width="740.6" height="598.5"/>
<g class="tk">
<line x1="1396.4" y1="966" x2="1410" y2="966"/><line x1="1396.4" y1="1085.5" x2="1410" y2="1085.5"/><line x1="1396.4" y1="1204.4" x2="1410" y2="1204.4"/><line x1="1396.4" y1="1324.3" x2="1410" y2="1324.3"/>
<line x1="1431.4" y1="1444.2" x2="1431.4" y2="1431"/><line x1="1519.6" y1="1444.2" x2="1519.6" y2="1431"/><line x1="1607.8" y1="1444.2" x2="1607.8" y2="1431"/><line x1="1696" y1="1444.2" x2="1696" y2="1431"/><line x1="1784.2" y1="1444.2" x2="1784.2" y2="1431"/><line x1="1872.4" y1="1444.2" x2="1872.4" y2="1431"/><line x1="1960.6" y1="1444.2" x2="1960.6" y2="1431"/><line x1="2048.8" y1="1444.2" x2="2048.8" y2="1431"/>
</g>
<g text-anchor="end"><text x="1375" y="861.7">2500</text><text x="1375" y="982">2000</text><text x="1375" y="1101.5">1500</text><text x="1375" y="1220.4">1000</text><text x="1375" y="1340.3">500</text><text x="1375" y="1460">0</text></g>
<g text-anchor="middle"><text x="1431.4" y="1503">0</text><text x="1607.8" y="1503">50</text><text x="1784.2" y="1503">100</text><text x="1960.6" y="1503">150</text><text x="2137" y="1503">200</text></g>
<text class="lab" transform="translate(1220,1147) rotate(-90)" text-anchor="middle">强度</text>
<text class="lab" x="1766" y="1585" text-anchor="middle">距离/μm</text>
<text class="lab" x="1434" y="909">(e)</text>
<g transform="translate(1100,809) scale(0.714286,0.510204)">
<polyline class="s v" points="464,1185 472,1190 480,1195 488,1205 496,1190 504,1185 512,1190 520,1180 528,1175 536,1170 542,1160 550,1165 558,1175 566,1180 574,1185 582,1190 590,1190 598,1195 606,1190 614,1195 622,1185 628,1175 634,1185 640,1180 646,1195 652,1200 660,1210 668,1195 676,1205 684,1195 692,1200 700,1200 708,1205 716,1200 724,1200 732,1215 740,1220 748,1222 756,1218 764,1220 772,1222 780,1215 788,1225 796,1228 804,1225 812,1230 820,1225 828,1228 836,1230 844,1222 852,1225 860,1230 868,1222 876,1232 884,1225 892,1222 900,1225 908,1220 916,1222 924,1225 932,1222 940,1225 948,1218 956,1220 964,1215 972,1222 980,1225 988,1222 996,1220 1004,1225 1012,1222 1020,1215 1028,1222 1036,1225 1044,1230 1052,1225 1060,1228 1068,1225 1076,1222 1084,1218 1092,1222 1100,1225 1108,1215 1116,1220 1124,1222 1132,1225 1140,1215 1148,1210 1156,1205 1164,1200 1172,1195 1180,1205 1188,1205 1196,1200 1204,1205 1212,1195 1220,1185 1228,1215 1236,1190 1244,1175 1252,1190 1258,1170 1266,1185 1274,1200 1282,1200 1290,1185 1296,1195 1304,1200 1312,1210 1320,1200 1328,1210 1336,1195 1344,1205 1350,1180 1358,1190 1366,1180 1374,1200 1382,1210 1390,1200 1398,1185 1406,1190 1415,1180"/>
<polyline class="s al" points="464,1130 470,1140 478,1155 486,1135 494,1125 500,1140 506,1155 514,1165 522,1150 530,1140 538,1140 546,1150 554,1150 562,1160 570,1145 578,1130 586,1125 594,1130 600,1140 606,1160 612,1130 620,1110 626,1140 634,1160 642,1140 648,1130 656,1140 664,1165 672,1185 680,1170 688,1155 696,1160 704,1170 712,1180 720,1185 728,1190 736,1195 744,1200 752,1195 760,1195 768,1190 776,1195 784,1195 792,1190 800,1195 808,1180 816,1190 824,1195 832,1190 840,1185 848,1195 856,1190 864,1200 872,1195 880,1185 888,1200 896,1195 904,1180 912,1185 920,1195 928,1190 936,1195 944,1200 952,1195 960,1190 968,1185 976,1200 984,1205 992,1195 1000,1200 1008,1210 1016,1205 1024,1200 1032,1195 1040,1180 1048,1190 1056,1200 1064,1210 1072,1195 1080,1200 1088,1190 1096,1195 1104,1195 1112,1200 1120,1190 1128,1195 1136,1190 1144,1195 1150,1180 1158,1175 1166,1190 1172,1130 1178,1150 1186,1170 1194,1185 1202,1170 1210,1160 1216,1130 1222,1155 1230,1150 1238,1165 1246,1160 1252,1170 1260,1150 1268,1140 1276,1145 1284,1140 1290,1105 1296,1140 1304,1135 1312,1135 1320,1135 1328,1130 1336,1130 1344,1125 1352,1120 1360,1130 1368,1140 1376,1125 1384,1110 1392,1095 1400,1110 1408,1130 1415,1140"/>
<polyline class="s ti" points="464,950 470,930 478,940 486,935 494,940 502,935 510,945 516,940 522,880 528,945 536,955 544,965 552,960 560,945 568,955 576,940 584,945 590,910 596,970 600,980 606,965 612,985 620,1000 628,995 634,945 638,910 644,930 650,960 656,1000 662,1030 668,1025 674,1035 680,1060 688,1055 696,1065 704,1055 712,1065 718,1110 724,1160 730,1190 740,1215 750,1210 760,1220 770,1210 780,1225 790,1215 800,1220 810,1225 820,1215 830,1220 840,1218 850,1222 860,1215 870,1225 880,1230 890,1228 900,1225 910,1230 920,1222 930,1215 940,1225 950,1220 960,1212 968,1225 975,1235 985,1230 995,1220 1005,1218 1015,1230 1025,1225 1035,1228 1045,1225 1055,1230 1065,1225 1075,1218 1085,1220 1095,1225 1105,1218 1115,1225 1125,1230 1135,1225 1142,1170 1150,1100 1158,1060 1164,1035 1170,1000 1176,990 1182,1060 1188,1095 1194,1040 1200,1055 1206,1020 1212,1010 1218,990 1226,985 1234,990 1242,985 1250,995 1258,1005 1264,1035 1270,985 1276,935 1282,960 1290,945 1298,925 1306,915 1314,965 1322,940 1330,930 1338,935 1346,935 1354,915 1362,920 1370,920 1378,915 1386,940 1392,965 1398,935 1406,895 1412,920 1415,950"/>
<polyline class="s ta" points="464,1220 470,1195 478,1200 486,1210 494,1215 502,1200 510,1185 518,1190 526,1215 534,1225 540,1205 548,1175 556,1165 564,1175 572,1165 580,1160 590,1155 600,1140 610,1120 620,1115 630,1110 640,1100 648,1060 655,1015 662,970 668,995 675,1000 682,990 690,970 696,925 702,875 706,850 712,855 716,780 720,660 724,560 728,470 732,400 735,340 740,370 745,390 750,360 755,385 760,400 765,435 770,400 778,370 785,340 792,320 798,345 805,370 810,430 818,390 826,360 835,340 842,320 850,350 858,365 862,385 868,460 872,380 878,320 884,365 890,395 896,405 902,380 906,330 912,330 918,370 924,390 930,350 936,305 942,355 948,370 955,330 962,280 966,270 970,360 978,380 985,375 992,365 1000,370 1008,380 1016,355 1024,345 1032,360 1040,355 1048,345 1056,345 1062,380 1068,430 1075,430 1082,400 1090,330 1096,345 1104,345 1112,340 1120,360 1128,385 1134,410 1138,440 1142,520 1146,650 1150,750 1155,860 1160,890 1165,910 1172,920 1178,935 1186,985 1192,1010 1198,980 1202,970 1208,1000 1214,1030 1220,1050 1228,1095 1236,1105 1244,1105 1252,1100 1260,1115 1268,1125 1276,1145 1284,1150 1292,1160 1300,1170 1308,1175 1316,1195 1324,1200 1332,1190 1340,1200 1348,1195 1356,1205 1364,1200 1372,1215 1380,1175 1388,1215 1394,1220 1400,1205 1408,1195 1415,1185"/>
</g>
<g>
<line x1="1963" y1="914.6" x2="2023" y2="914.6" stroke="#1a1a1a" stroke-width="9" opacity="0.25"/><line x1="1963" y1="914.6" x2="2023" y2="914.6" stroke="#1a1a1a" stroke-width="4.5"/>
<line x1="1963" y1="973.3" x2="2023" y2="973.3" stroke="#e0323f" stroke-width="6"/>
<line x1="1963" y1="1032" x2="2023" y2="1032" stroke="#3a4ea6" stroke-width="9" opacity="0.3"/><line x1="1963" y1="1032" x2="2023" y2="1032" stroke="#3a4ea6" stroke-width="4.5"/>
<line x1="1963" y1="1090.6" x2="2023" y2="1090.6" stroke="#a04cb2" stroke-width="6"/>
<text class="lab" x="2046" y="927.6">Al</text><text class="lab" x="2046" y="986.3">Ti</text><text class="lab" x="2046" y="1045">Ta</text><text class="lab" x="2046" y="1103.6">V</text>
</g>

<!-- ================= PANEL F ================= -->
<rect class="ax" x="2434" y="845" width="740.4" height="599"/>
<g class="tk">
<line x1="2434" y1="886" x2="2448" y2="886"/><line x1="2434" y1="966" x2="2448" y2="966"/><line x1="2434" y1="1046.6" x2="2448" y2="1046.6"/><line x1="2434" y1="1126" x2="2448" y2="1126"/><line x1="2434" y1="1206.6" x2="2448" y2="1206.6"/><line x1="2434" y1="1286" x2="2448" y2="1286"/><line x1="2434" y1="1366" x2="2448" y2="1366"/>
<line x1="2508.5" y1="1444" x2="2508.5" y2="1430"/><line x1="2656" y1="1444" x2="2656" y2="1430"/><line x1="2804.5" y1="1444" x2="2804.5" y2="1430"/><line x1="2953" y1="1444" x2="2953" y2="1430"/><line x1="3100.6" y1="1444" x2="3100.6" y2="1430"/>
</g>
<g text-anchor="end"><text x="2419" y="903">14</text><text x="2419" y="983">12</text><text x="2419" y="1063.6">10</text><text x="2419" y="1143">8</text><text x="2419" y="1223.6">6</text><text x="2419" y="1303">4</text><text x="2419" y="1383">2</text><text x="2419" y="1461">0</text></g>
<g text-anchor="middle"><text x="2508.5" y="1502">800</text><text x="2656" y="1502">900</text><text x="2804.5" y="1502">950</text><text x="2953" y="1502">1000</text><text x="3100.6" y="1502">1050</text></g>
<text class="lab" transform="translate(2315,1147) rotate(-90)" text-anchor="middle">厚度/μm</text>
<text class="lab" x="2801" y="1583" text-anchor="middle">温度/℃</text>
<text class="lab" x="2470" y="911">(f)</text>
<polyline fill="none" stroke="#1a1a1a" stroke-width="3" stroke-linejoin="round" points="2508.5,1226.2 2656,1223.1 2804.5,1172.5 2953,1099.3 3100.6,1023.4"/>
<g stroke="#e0323f" stroke-width="3">
<line x1="2508.5" y1="1192.2" x2="2508.5" y2="1259.2"/><line x1="2500.5" y1="1192.2" x2="2516.5" y2="1192.2"/><line x1="2500.5" y1="1259.2" x2="2516.5" y2="1259.2"/>
<line x1="2656" y1="1190.6" x2="2656" y2="1255.1"/><line x1="2648" y1="1190.6" x2="2664" y2="1190.6"/><line x1="2648" y1="1255.1" x2="2664" y2="1255.1"/>
<line x1="2804.5" y1="1143.7" x2="2804.5" y2="1200.4"/><line x1="2796.5" y1="1143.7" x2="2812.5" y2="1143.7"/><line x1="2796.5" y1="1200.4" x2="2812.5" y2="1200.4"/>
<line x1="2953" y1="1080.2" x2="2953" y2="1120.4"/><line x1="2945" y1="1080.2" x2="2961" y2="1080.2"/><line x1="2945" y1="1120.4" x2="2961" y2="1120.4"/>
<line x1="3100.6" y1="998.7" x2="3100.6" y2="1047.2"/><line x1="3092.6" y1="998.7" x2="3108.6" y2="998.7"/><line x1="3092.6" y1="1047.2" x2="3108.6" y2="1047.2"/>
</g>
</svg>
</body></html>
